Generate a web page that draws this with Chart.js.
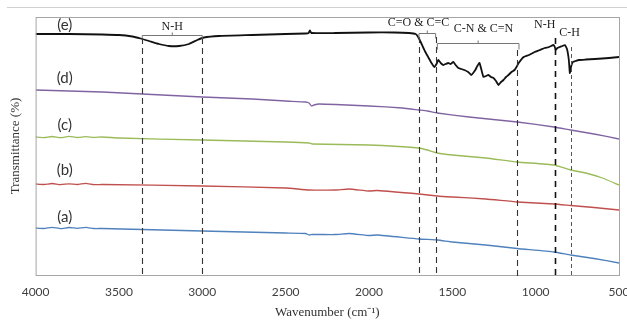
<!DOCTYPE html>
<html>
<head>
<meta charset="utf-8">
<script src="https://cdn.jsdelivr.net/npm/chart.js@4/dist/chart.umd.min.js"></script>
<style>
  html, body { margin: 0; padding: 0; background: #fff; }
  #wrap { width: 627px; height: 320px; position: relative; }
</style>
</head>
<body>
<div id="wrap"><canvas id="chart"></canvas></div>
<script>
// x tick labels (wavenumber, reversed axis)
const tickWaves = [4000, 3500, 3000, 2500, 2000, 1500, 1000, 500];

// (e) black spectrum
const waveE = [4000, 3800, 3600, 3500, 3420, 3370, 3320, 3260, 3200, 3140, 3080, 3030, 2990, 2900, 2700, 2500, 2380, 2362, 2355, 2345, 2200, 2000, 1850, 1760, 1720, 1705, 1687, 1665, 1645, 1625, 1608, 1595, 1584, 1570, 1554, 1540, 1524, 1510, 1494, 1480, 1464, 1445, 1428, 1405, 1386, 1375, 1362, 1350, 1337, 1325, 1313, 1298, 1283, 1268, 1253, 1238, 1223, 1208, 1193, 1178, 1163, 1145, 1127, 1115, 1102, 1072, 1040, 1006, 975, 946, 920, 892, 885, 880, 870, 856, 840, 825, 812, 801, 795, 788, 777, 760, 741, 700, 645, 600, 560, 530, 500];
const transE = [241, 241, 240.5, 240, 238.5, 236.5, 234, 231, 229, 229, 231, 235, 237.5, 239, 240, 241, 241.5, 242, 244.5, 242, 242, 242.5, 242.5, 242, 241, 238, 232, 224, 218, 212, 208, 211, 215, 212, 210, 211, 212, 211, 213, 210, 207, 206, 205, 203, 200, 202, 205, 209, 212, 205, 198, 199, 200, 198, 197, 194, 190, 193, 195, 198, 200, 203, 205, 208, 212, 218, 220, 223, 225, 227, 228, 230, 228, 225, 227, 228, 229, 230, 226, 215, 202, 208, 213, 214, 215, 215.5, 216, 216.5, 217, 217.5, 218];

// (d) purple
const waveD = [4000, 3900, 3800, 3700, 3600, 3360, 3000, 2700, 2500, 2380, 2360, 2345, 2330, 2300, 2200, 2000, 1800, 1700, 1650, 1590, 1400, 1110, 890, 790, 650, 500];
const transD = [185, 184.5, 184, 183.5, 183, 181, 178, 176, 174, 173, 172, 169, 170, 171, 170.5, 169, 167, 165, 164, 162, 158, 153, 148, 145, 141, 136];

// (c) green
const waveC = [4000, 3950, 3900, 3850, 3800, 3750, 3700, 3650, 3600, 3500, 3000, 2500, 2360, 2340, 2000, 1700, 1650, 1590, 1500, 1300, 1110, 890, 790, 700, 600, 500];
const transC = [138, 137.4, 138.5, 137.3, 138.6, 137.5, 138.3, 137.6, 138, 137, 135, 133, 132, 131, 130, 127, 125, 122, 120, 117, 113, 110, 105, 102, 97, 90];

// (b) red
const waveB = [4000, 3950, 3900, 3850, 3800, 3750, 3700, 3650, 3600, 3000, 2500, 2360, 2200, 2120, 2000, 1950, 1700, 1590, 1500, 1300, 1110, 890, 790, 650, 500];
const transB = [91, 90.5, 91.5, 90.3, 91.2, 90.5, 91.6, 90.4, 90.5, 89, 87, 85, 85, 86, 84, 84.5, 81, 79, 78, 76, 73, 71, 69.5, 67.5, 65];

// (a) blue
const waveA = [4000, 3950, 3900, 3850, 3800, 3750, 3700, 3650, 3600, 3000, 2500, 2380, 2360, 2340, 2200, 2120, 2000, 1950, 1700, 1590, 1500, 1300, 1110, 890, 790, 650, 500];
const transA = [47, 46.5, 47.7, 46.4, 47.5, 46.6, 47.6, 46.5, 46.5, 44, 42, 41.5, 40, 40.5, 40.5, 41.5, 39.5, 40, 36, 35, 33, 30, 26.5, 23, 20, 16.5, 12];

// annotations
const peakWaves = [3360, 3000, 1700, 1600, 1110, 885, 790];
const peakTops = [237, 237, 238, 238, 225, 237, 228];
const brackets = [
    { from: 3360, to: 3000, level: 240, drop: 3 },
    { from: 1700, to: 1600, level: 242, drop: 5 },
    { from: 1590, to: 1100, level: 232, drop: 6 }
];
const bandLabels = [
    { text: "N-H", wave: 3180, y: 248 },
    { text: "C=O & C=C", wave: 1703, y: 252 },
    { text: "C-N & C=N", wave: 1313, y: 246 },
    { text: "N-H", wave: 946, y: 250 },
    { text: "C-H", wave: 797, y: 242 }
];
const sampleNames = ["(e)", "(d)", "(c)", "(b)", "(a)"];
const sampleLabelY = [250, 197, 150, 105, 58];

function pts(w, v) {
    return w.map((x, i) => ({ x: x, y: v[i] }));
}

const series = [
    { name: "(e)", data: pts(waveE, transE), color: "#111111", width: 1.8 },
    { name: "(d)", data: pts(waveD, transD), color: "#8064a2", width: 1.3 },
    { name: "(c)", data: pts(waveC, transC), color: "#9bbb59", width: 1.3 },
    { name: "(b)", data: pts(waveB, transB), color: "#c0504d", width: 1.3 },
    { name: "(a)", data: pts(waveA, transA), color: "#4f81bd", width: 1.3 }
];

const annotate = {
    id: "annotate",
    afterDatasetsDraw(chart) {
        const c = chart.ctx;
        const xs = chart.scales.x, ys = chart.scales.y;
        const a = chart.chartArea;
        c.save();

        // outer top line of the figure
        c.strokeStyle = "#d0d0d0";
        c.lineWidth = 1;
        c.beginPath();
        c.moveTo(7, 7.5);
        c.lineTo(627, 7.5);
        c.stroke();

        // plot frame
        c.strokeStyle = "#a6a6a6";
        c.strokeRect(a.left + 0.5, a.top + 0.5, a.right - a.left, a.bottom - a.top);

        // dashed marker lines
        peakWaves.forEach((w, i) => {
            const x = Math.round(xs.getPixelForValue(w)) + 0.5;
            c.beginPath();
            if (w === 885) {
                c.strokeStyle = "#111";
                c.lineWidth = 1.6;
                c.setLineDash([6, 5]);
            } else if (w === 790) {
                c.strokeStyle = "#555";
                c.lineWidth = 1;
                c.setLineDash([4, 3]);
            } else {
                c.strokeStyle = "#333";
                c.lineWidth = 1.1;
                c.setLineDash([6, 4]);
            }
            c.moveTo(x, ys.getPixelForValue(peakTops[i]));
            c.lineTo(x, a.bottom + 2);
            c.stroke();
        });
        c.setLineDash([]);

        // brackets
        c.strokeStyle = "#777";
        c.lineWidth = 1;
        brackets.forEach(b => {
            const x1 = xs.getPixelForValue(b.from), x2 = xs.getPixelForValue(b.to);
            const y = Math.round(ys.getPixelForValue(b.level)) + 0.5;
            const mid = (x1 + x2) / 2;
            c.beginPath();
            c.moveTo(x1, y + b.drop);
            c.lineTo(x1, y);
            c.lineTo(x2, y);
            c.lineTo(x2, y + b.drop);
            c.moveTo(mid, y);
            c.lineTo(mid, y - 3);
            c.stroke();
        });

        // band labels
        c.fillStyle = "#222";
        c.font = "12px 'Liberation Serif'";
        c.textAlign = "center";
        c.textBaseline = "middle";
        bandLabels.forEach(l => {
            c.fillText(l.text, xs.getPixelForValue(l.wave), ys.getPixelForValue(l.y));
        });

        // sample labels
        c.fillStyle = "#333";
        c.font = "15px Lato";
        sampleNames.forEach((n, i) => {
            c.fillText(n, xs.getPixelForValue(3825), ys.getPixelForValue(sampleLabelY[i]));
        });
        c.restore();
    }
};

new Chart(document.getElementById("chart"), {
    type: "line",
    data: {
        datasets: series.map(s => ({
            label: s.name,
            data: s.data,
            borderColor: s.color,
            borderWidth: s.width,
            pointRadius: 0,
            tension: 0.15,
            fill: false
        }))
    },
    options: {
        responsive: true,
        maintainAspectRatio: false,
        animation: false,
        layout: { padding: { left: 6, right: 8, top: 17, bottom: 0 } },
        plugins: {
            legend: { display: false },
            tooltip: { enabled: false }
        },
        scales: {
            x: {
                type: "linear",
                reverse: true,
                min: 500,
                max: 4000,
                afterBuildTicks(scale) {
                    scale.ticks = tickWaves.map(v => ({ value: v }));
                },
                afterFit(scale) {
                    scale.paddingRight = 0;
                    scale.paddingLeft = 0;
                    scale.height -= 10;
                },
                ticks: {
                    padding: 10,
                    maxRotation: 0,
                    color: "#404040",
                    font: { family: "Lato", size: 12 },
                    callback: v => String(v)
                },
                grid: { display: false, drawTicks: false },
                border: { display: false },
                title: {
                    display: true,
                    text: "Wavenumber (cm\u207B\u00B9)",
                    color: "#333",
                    font: { family: "Liberation Serif", size: 13 },
                    padding: { top: 5, bottom: 0 }
                }
            },
            y: {
                min: 0,
                max: 258,
                ticks: { display: false },
                grid: { display: false, drawTicks: false },
                border: { display: false },
                title: {
                    display: true,
                    text: "Transmittance (%)",
                    color: "#333",
                    font: { family: "Liberation Serif", size: 13 },
                    padding: { top: 2, bottom: 12 }
                }
            }
        }
    },
    plugins: [annotate]
});
</script>
</body>
</html>
